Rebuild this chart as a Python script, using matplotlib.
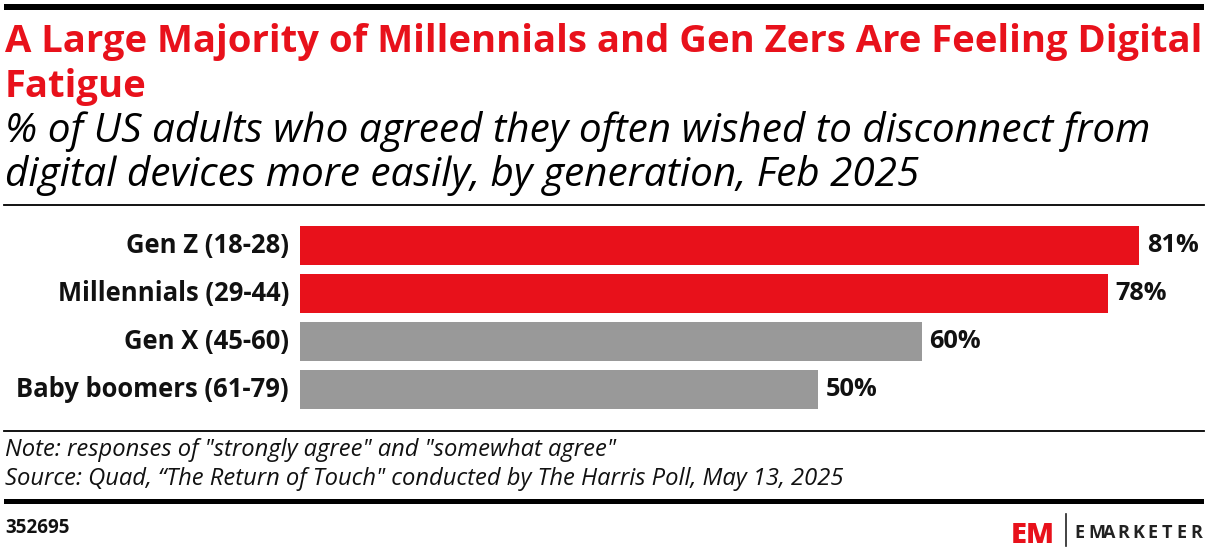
import matplotlib
matplotlib.use("Agg")
import matplotlib.pyplot as plt
from matplotlib.lines import Line2D
from matplotlib.patches import Rectangle

categories = ["Gen Z (18-28)", "Millennials (29-44)", "Gen X (45-60)", "Baby boomers (61-79)"]
values = [81, 78, 60, 50]
colors = ["#E8111B", "#E8111B", "#999999", "#999999"]

title1 = "A Large Majority of Millennials and Gen Zers Are Feeling Digital"
title2 = "Fatigue"
sub1 = "% of US adults who agreed they often wished to disconnect from"
sub2 = "digital devices more easily, by generation, Feb 2025"
note = "Note: responses of \"strongly agree\" and \"somewhat agree\""
source = "Source: Quad, \u201cThe Return of Touch\" conducted by The Harris Poll, May 13, 2025"
chart_id = "352695"

W, H = 1208, 550
FONT = ['Open Sans', 'DejaVu Sans']
plt.rcParams['font.family'] = FONT
fig = plt.figure(figsize=(W / 100, H / 100), dpi=100)
renderer = fig.canvas.get_renderer()

def fx(px):
    return px / W

def fy(py):
    return 1 - py / H

def fit(t, target):
    bb = t.get_window_extent(renderer)
    t.set_fontsize(t.get_fontsize() * target / bb.width)
    return t.get_fontsize()

# top thick bar
fig.add_artist(Rectangle((fx(4), fy(9.5)), fx(1200), 5.5 / H, transform=fig.transFigure,
                         color="black", lw=0))
t1 = fig.text(fx(5), fy(52), title1, color="#E8111B", fontsize=22, fontweight="bold",
              va="baseline", ha="left")
s = fit(t1, 1195)
fig.text(fx(5), fy(97), title2, color="#E8111B", fontsize=s, fontweight="bold",
         va="baseline", ha="left")
ts = fig.text(fx(5), fy(142), sub1, color="black", fontsize=22, style="italic",
              va="baseline", ha="left")
s = fit(ts, 1142)
fig.text(fx(5), fy(186), sub2, color="black", fontsize=s, style="italic",
         va="baseline", ha="left")
fig.add_artist(Line2D([fx(4), fx(1204)], [fy(205), fy(205)], color="black", lw=1.3,
                      transform=fig.transFigure))

# bars axes
px_per_unit = 10.36
ax_left, ax_right = 300, 1208
ax_top, ax_bot = 221.5, 413.5
ax = fig.add_axes([fx(ax_left), fy(ax_bot), fx(ax_right - ax_left), (ax_bot - ax_top) / H])
ypos = list(range(len(categories)))
ax.barh(ypos, values, height=39 / 48, color=colors, left=0)
ax.set_xlim(0, (ax_right - ax_left) / px_per_unit)
ax.set_ylim(len(categories) - 0.5, -0.5)
ax.axis("off")

probe = fig.text(0, 0, categories[3], fontsize=15, fontweight="bold")
lab_size = fit(probe, 273)
probe.remove()
probe = fig.text(0, 0, "81%", fontsize=15, fontweight="bold")
val_size = fit(probe, 52)
probe.remove()
for y, v, c in zip(ypos, values, categories):
    ax.text(v + 0.75, y, f"{v}%", va="center", ha="left", fontsize=val_size, fontweight="bold",
            color="#111111")
    ax.text(-1.05, y, c, va="center", ha="right", fontsize=lab_size, fontweight="bold",
            color="#111111")

fig.add_artist(Line2D([fx(4), fx(1204)], [fy(431), fy(431)], color="black", lw=1.3,
                      transform=fig.transFigure))
tn = fig.text(fx(5), fy(456), note, fontsize=14, style="italic", va="baseline", ha="left", color="#111111")
tsrc = fig.text(fx(5), fy(485), source, fontsize=14, style="italic", va="baseline", ha="left", color="#111111")
fit(tsrc, 845)
tn.set_fontsize(tsrc.get_fontsize())
fig.add_artist(Rectangle((fx(4), fy(503.5)), fx(1200), 5 / H, transform=fig.transFigure,
                         color="black", lw=0))
tid = fig.text(fx(5), fy(533), chart_id, fontsize=11, fontweight="bold", va="baseline", ha="left",
               color="#111111")
fit(tid, 64)

# logo
tem = fig.text(fx(1011), fy(543), "EM", fontsize=22, fontweight="heavy", color="#E8111B",
               va="baseline", ha="left")
fit(tem, 44)
fig.add_artist(Line2D([fx(1066), fx(1066)], [fy(514), fy(546)], color="#222222", lw=1.2,
                      transform=fig.transFigure))
logo = "EMARKETER"
for i, ch in enumerate(logo):
    fig.text(fx(1074 + i * 14.6), fy(537.5), ch, fontsize=13, fontweight="bold",
             color="#222222", va="baseline", ha="left")

fig.savefig("out.png", dpi=100)
